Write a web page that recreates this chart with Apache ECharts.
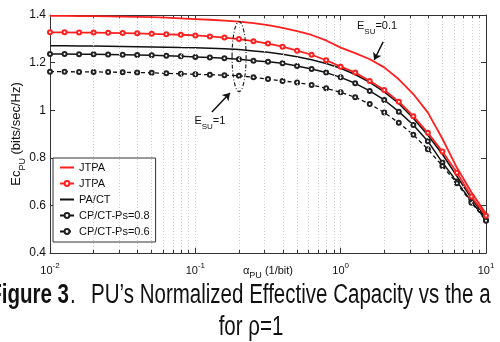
<!DOCTYPE html>
<html>
<head>
<meta charset="utf-8">
<script src="https://cdn.jsdelivr.net/npm/echarts@6/dist/echarts.min.js"></script>
<style>
  html, body { margin: 0; padding: 0; background: #fff; }
  #chart { width: 500px; height: 342px; }
</style>
</head>
<body>
<div id="chart"></div>
<script>
// x positions: 0.1 decade steps from 1e-2 to 1e1
const alpha = [0.01, 0.01259, 0.01585, 0.01995, 0.02512, 0.03162, 0.03981, 0.05012, 0.0631, 0.07943,
  0.1, 0.1259, 0.1585, 0.1995, 0.2512, 0.3162, 0.3981, 0.5012, 0.631, 0.7943,
  1, 1.259, 1.585, 1.995, 2.512, 3.162, 3.981, 5.012, 6.31, 7.943, 10];

// JTPA, E_SU = 0.1 (red, no markers)
const jtpaTop = [1.396, 1.396, 1.395, 1.395, 1.394, 1.393, 1.392, 1.391, 1.389, 1.386,
  1.383, 1.380, 1.376, 1.372, 1.366, 1.357, 1.346, 1.332, 1.316, 1.293,
  1.263, 1.240, 1.214, 1.180, 1.130, 1.068, 0.990, 0.880, 0.758, 0.655, 0.565];
// JTPA, E_SU = 1 (red, circles)
const jtpaMarked = [1.327, 1.327, 1.326, 1.326, 1.325, 1.324, 1.323, 1.321, 1.319, 1.317,
  1.314, 1.310, 1.305, 1.299, 1.290, 1.280, 1.267, 1.250, 1.233, 1.210,
  1.183, 1.158, 1.123, 1.085, 1.036, 0.975, 0.905, 0.826, 0.737, 0.637, 0.556];
// PA/CT (black, no markers)
const paCt = [1.271, 1.271, 1.270, 1.270, 1.269, 1.268, 1.267, 1.266, 1.265, 1.263,
  1.262, 1.260, 1.258, 1.255, 1.249, 1.243, 1.235, 1.225, 1.212, 1.196,
  1.176, 1.150, 1.117, 1.077, 1.028, 0.966, 0.895, 0.815, 0.722, 0.630, 0.545];
// CP/CT-Ps=0.8
const cpCt08 = [1.236, 1.236, 1.235, 1.235, 1.234, 1.233, 1.232, 1.231, 1.229, 1.227,
  1.224, 1.221, 1.218, 1.214, 1.208, 1.204, 1.197, 1.186, 1.173, 1.158,
  1.138, 1.113, 1.081, 1.043, 0.994, 0.938, 0.870, 0.780, 0.700, 0.616, 0.539];
// CP/CT-Ps=0.6
const cpCt06 = [1.162, 1.162, 1.161, 1.161, 1.160, 1.159, 1.158, 1.157, 1.155, 1.153,
  1.151, 1.149, 1.147, 1.145, 1.138, 1.131, 1.123, 1.116, 1.106, 1.092,
  1.075, 1.054, 1.026, 0.990, 0.947, 0.897, 0.836, 0.766, 0.693, 0.611, 0.535];

const minorGrid = [0.02, 0.03, 0.04, 0.05, 0.06, 0.07, 0.08, 0.09, 0.1,
  0.2, 0.3, 0.4, 0.5, 0.6, 0.7, 0.8, 0.9, 1,
  2, 3, 4, 5, 6, 7, 8, 9];

const pairs = ys => alpha.map((a, i) => [a, ys[i]]);
const RED = '#ff1f1f';
const INK = '#111';
const FONT = 'Liberation Sans, Arial, sans-serif';
const CAP_FONT = 'Liberation Sans';
const CAP_SIZE = 27;
const CAP_SCALE = 0.76;

const chart = echarts.init(document.getElementById('chart'));

// small tick marks on top and bottom edges
const tickSegs = [];
minorGrid.forEach(v => {
  const major = v === 0.1 || v === 1;
  const len = major ? 0.022 : 0.013;
  tickSegs.push([{ coord: [v, 0.4] }, { coord: [v, 0.4 + len] }]);
  tickSegs.push([{ coord: [v, 1.4] }, { coord: [v, 1.4 - len] }]);
});

const option = {
  animation: false,
  grid: { left: 50, right: 14, top: 15, bottom: 89 },
  textStyle: { fontFamily: FONT },
  legend: {
    orient: 'vertical',
    left: 53,
    top: 158,
    itemWidth: 14,
    itemHeight: 6,
    itemGap: 5,
    padding: [4, 6, 5, 6],
    borderColor: '#333',
    borderWidth: 1,
    backgroundColor: '#fff',
    textStyle: { fontSize: 11, color: INK, fontFamily: FONT },
    data: [
      { name: 'JTPA', itemStyle: { opacity: 0 } },
      { name: 'JTPA ' },
      { name: 'PA/CT', itemStyle: { opacity: 0 } },
      { name: 'CP/CT-Ps=0.8' },
      { name: 'CP/CT-Ps=0.6' }
    ]
  },
  xAxis: [{
    type: 'log',
    logBase: 10,
    min: 0.01,
    max: 10,
    name: '{a|α}{s|PU}{a| (1/bit)}',
    nameLocation: 'middle',
    nameGap: 12,
    nameMoveOverlap: false,
    nameTextStyle: {
      rich: {
        a: { fontSize: 11, color: INK, lineHeight: 15, verticalAlign: 'top' },
        s: { fontSize: 9, color: INK, lineHeight: 15, verticalAlign: 'bottom', padding: [6, 0, 0, 0] }
      }
    },
    axisLine: { lineStyle: { color: '#333', width: 1 } },
    axisTick: { show: false },
    splitLine: { show: false },
    minorTick: { show: false },
    axisLabel: {
      margin: 9,
      formatter: v => '{b|10}{e|' + Math.round(Math.log10(v)) + '}',
      rich: {
        b: { fontSize: 11, color: INK, lineHeight: 14, verticalAlign: 'bottom' },
        e: { fontSize: 8, color: INK, lineHeight: 14, verticalAlign: 'top' }
      }
    }
  }, {
    type: 'log',
    logBase: 10,
    min: 0.01,
    max: 10,
    position: 'top',
    axisLine: { lineStyle: { color: '#333', width: 1 } },
    axisTick: { show: false },
    axisLabel: { show: false },
    splitLine: { show: false }
  }],
  yAxis: [{
    type: 'value',
    min: 0.4,
    max: 1.4,
    interval: 0.2,
    name: '{a|Ec}{s|PU}{a| (bits/sec/Hz)}',
    nameLocation: 'middle',
    nameRotate: 90,
    nameGap: 23,
    nameMoveOverlap: false,
    nameTextStyle: {
      rich: {
        a: { fontSize: 13, color: INK, lineHeight: 17, verticalAlign: 'top' },
        s: { fontSize: 9, color: INK, lineHeight: 17, verticalAlign: 'bottom', padding: [7, 0, 0, 0] }
      }
    },
    axisLine: { show: true, lineStyle: { color: '#333', width: 1 } },
    axisTick: { show: true, inside: true, length: 5, lineStyle: { color: '#333' } },
    axisLabel: {
      margin: 4,
      fontSize: 12,
      color: INK,
      formatter: v => String(+v.toFixed(1))
    },
    splitLine: { show: false }
  }, {
    type: 'value',
    min: 0.4,
    max: 1.4,
    interval: 0.2,
    position: 'right',
    axisLine: { show: true, lineStyle: { color: '#333', width: 1 } },
    axisTick: { show: true, inside: true, length: 5, lineStyle: { color: '#333' } },
    axisLabel: { show: false },
    splitLine: { show: false }
  }],
  series: [
    {
      name: 'grid',
      type: 'line',
      data: [],
      z: 1,
      silent: true,
      markLine: {
        silent: true,
        symbol: 'none',
        label: { show: false },
        lineStyle: { color: '#cfcfcf', type: [1, 2], width: 1 },
        data: minorGrid.map(v => ({ xAxis: v }))
      }
    },
    {
      name: 'ticks',
      type: 'line',
      data: [],
      z: 2,
      silent: true,
      markLine: {
        silent: true,
        symbol: 'none',
        label: { show: false },
        lineStyle: { color: '#333', type: 'solid', width: 1 },
        data: tickSegs
      }
    },
    {
      name: 'JTPA',
      type: 'line',
      data: pairs(jtpaTop),
      showSymbol: false,
      symbol: 'none',
      color: RED,
      lineStyle: { color: RED, width: 1.8 },
      z: 5
    },
    {
      name: 'JTPA ',
      type: 'line',
      data: pairs(jtpaMarked),
      symbol: 'emptyCircle',
      symbolSize: 4,
      color: RED,
      itemStyle: { color: RED, borderWidth: 1.5 },
      lineStyle: { color: RED, width: 1.8 },
      z: 5
    },
    {
      name: 'PA/CT',
      type: 'line',
      data: pairs(paCt),
      showSymbol: false,
      symbol: 'none',
      color: INK,
      lineStyle: { color: INK, width: 1.5 },
      z: 4
    },
    {
      name: 'CP/CT-Ps=0.8',
      type: 'line',
      data: pairs(cpCt08),
      symbol: 'emptyCircle',
      symbolSize: 4,
      color: INK,
      itemStyle: { color: '#222', borderWidth: 1.4 },
      lineStyle: { color: INK, width: 1.5 },
      z: 4
    },
    {
      name: 'CP/CT-Ps=0.6',
      type: 'line',
      data: pairs(cpCt06),
      symbol: 'emptyCircle',
      symbolSize: 4,
      color: INK,
      itemStyle: { color: '#222', borderWidth: 1.4 },
      lineStyle: { color: INK, width: 1.3, type: [4, 3] },
      z: 4
    },
    {
      name: 'arrows',
      type: 'line',
      data: [],
      z: 6,
      silent: true,
      markLine: {
        silent: true,
        symbol: ['none', 'arrow'],
        symbolSize: 7,
        label: { show: false },
        lineStyle: { color: INK, type: 'solid', width: 1.5 },
        data: [
          [{ coord: [0.130, 0.992] }, { coord: [0.173, 1.072] }],
          [{ coord: [1.96, 1.287] }, { coord: [1.70, 1.211] }]
        ]
      }
    }
  ]
};

chart.setOption(option);

// annotations placed through the axes
const px = (a, v) => chart.convertToPixel({ gridIndex: 0 }, [a, v]);
const ell = px(0.2, 1.225);
const t1 = px(0.126, 0.946);
const t2 = px(1.78, 1.345);
const esuRich = {
  a: { fontSize: 11, fill: INK, lineHeight: 15, verticalAlign: 'top' },
  s: { fontSize: 8, fill: INK, lineHeight: 15, verticalAlign: 'bottom', padding: [6, 0, 0, 0] }
};
const capStyle = (text, align, bold) => ({
  text: text,
  align: align,
  verticalAlign: 'middle',
  fontSize: CAP_SIZE,
  fontWeight: bold ? 'bold' : 'normal',
  fontFamily: CAP_FONT,
  fill: '#111'
});

chart.setOption({
  graphic: [
    {
      type: 'ellipse',
      shape: { cx: ell[0], cy: ell[1], rx: 7, ry: 35 },
      style: { fill: 'none', stroke: '#222', lineWidth: 1.2, lineDash: [4, 2, 1, 2] },
      z: 10
    },
    {
      type: 'text',
      x: t1[0], y: t1[1],
      style: { text: '{a|E}{s|SU}{a|=1}', rich: esuRich, align: 'center', verticalAlign: 'middle', fontFamily: FONT },
      z: 10
    },
    {
      type: 'text',
      x: t2[0], y: t2[1],
      style: { text: '{a|E}{s|SU}{a|=0.1}', rich: esuRich, align: 'center', verticalAlign: 'middle', fontFamily: FONT },
      z: 10
    },
    { type: 'text', x: 69, y: 296, scaleX: CAP_SCALE, style: capStyle('Figure 3', 'right', true), z: 10 },
    { type: 'text', x: 70, y: 296, scaleX: CAP_SCALE, style: capStyle('.', 'left', false), z: 10 },
    { type: 'text', x: 91, y: 296, scaleX: CAP_SCALE, style: capStyle('PU’s Normalized Effective Capacity vs the a', 'left', false), z: 10 },
    { type: 'text', x: 251, y: 328, scaleX: CAP_SCALE, style: capStyle('for ρ=1', 'center', false), z: 10 }
  ]
});
</script>
</body>
</html>
